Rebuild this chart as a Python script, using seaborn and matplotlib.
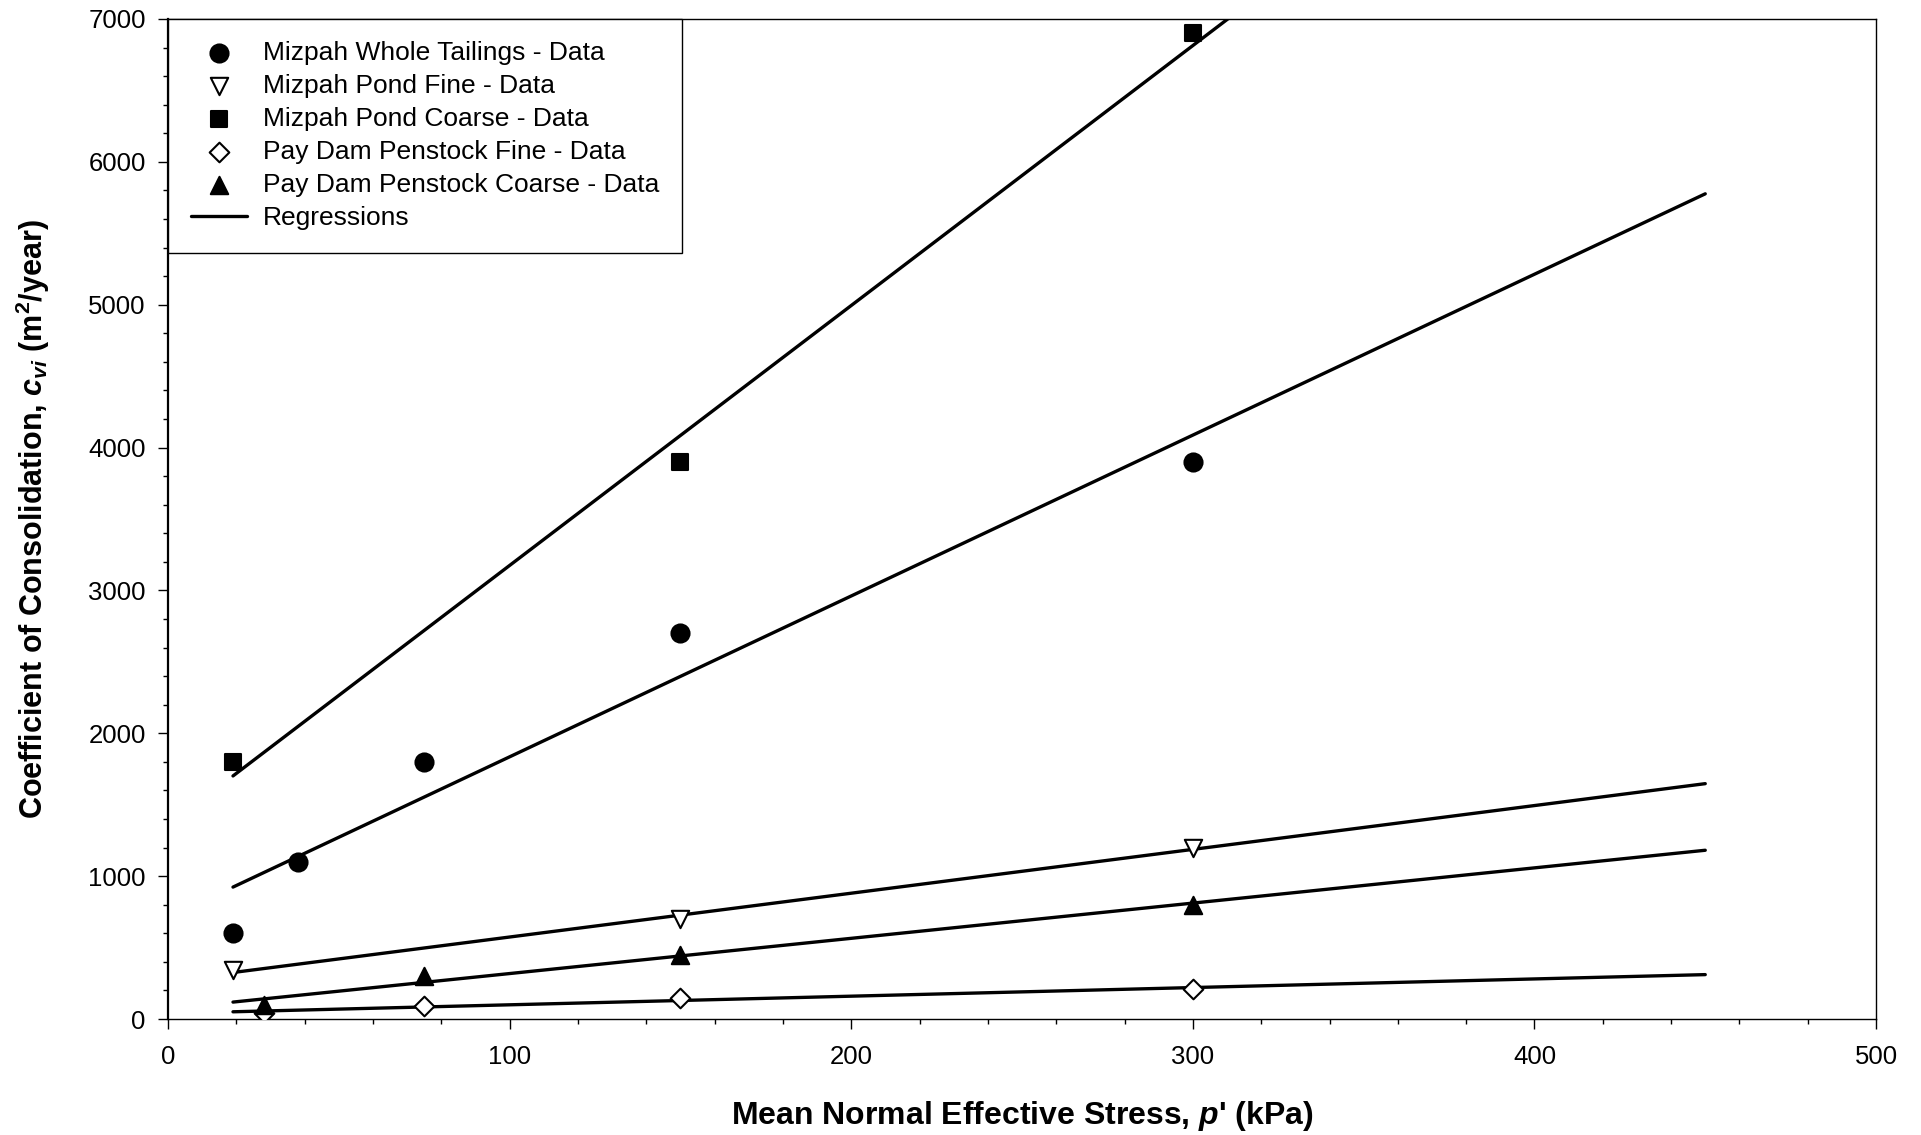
import numpy as np
import pandas as pd
import matplotlib
matplotlib.use("Agg")
import matplotlib.pyplot as plt
import seaborn as sns
from matplotlib.ticker import MultipleLocator

# ---------------- data ----------------
whole_x = [19, 38, 75, 150, 300]
whole_y = [600, 1100, 1800, 2700, 3900]
pfine_x = [19, 150, 300]
pfine_y = [340, 700, 1200]
pcoarse_x = [19, 150, 300]
pcoarse_y = [1800, 3900, 6900]
pdfine_x = [28, 75, 150, 300]
pdfine_y = [40, 90, 150, 210]
pdcoarse_x = [28, 75, 150, 300]
pdcoarse_y = [100, 300, 450, 800]

fit_range = [19, 450]

labels = ["Mizpah Whole Tailings - Data", "Mizpah Pond Fine - Data",
          "Mizpah Pond Coarse - Data", "Pay Dam Penstock Fine - Data",
          "Pay Dam Penstock Coarse - Data", "Regressions"]

# ---------------- style ----------------
sns.set_theme(style="white")
plt.rcParams['font.family'] = ['Liberation Sans', 'DejaVu Sans']
plt.rcParams['mathtext.fontset'] = 'custom'
plt.rcParams['mathtext.rm'] = 'Liberation Sans:bold'
plt.rcParams['mathtext.bf'] = 'Liberation Sans:bold'
plt.rcParams['mathtext.it'] = 'Liberation Sans:bold:italic'

fig = plt.figure(figsize=(19.21, 11.35), dpi=100)
ax = fig.add_axes([0.0875, 0.1022, 0.9766 - 0.0875, 0.9833 - 0.1022])

series = [
    (whole_x, whole_y, 'o', 13.0 ** 2, 'black'),
    (pfine_x, pfine_y, 'v', 12.5 ** 2, 'white'),
    (pcoarse_x, pcoarse_y, 's', 11.5 ** 2, 'black'),
    (pdfine_x, pdfine_y, 'D', 10.0 ** 2, 'white'),
    (pdcoarse_x, pdcoarse_y, '^', 12.5 ** 2, 'black'),
]

handles = []
# regression lines (least-squares fits of each data series)
xx = np.array(fit_range, dtype=float)
for sx, sy, m, s, fc in series:
    slope, icpt = np.polyfit(sx, sy, 1)
    df_line = pd.DataFrame({"x": xx, "y": slope * xx + icpt})
    sns.lineplot(data=df_line, x="x", y="y", ax=ax, color="black", linewidth=2.4,
                 zorder=2, legend=False)
line_handle = ax.lines[-1]

for sx, sy, m, s, fc in series:
    sns.scatterplot(x=sx, y=sy, ax=ax, marker=m, s=s, facecolor=fc,
                    edgecolor='black', linewidth=1.5, zorder=3, legend=False)
    handles.append(ax.collections[-1])
handles.append(line_handle)

ax.set_xlim(0, 500)
ax.set_ylim(0, 7000)
ax.xaxis.set_major_locator(MultipleLocator(100))
ax.xaxis.set_minor_locator(MultipleLocator(20))
ax.yaxis.set_major_locator(MultipleLocator(1000))
ax.yaxis.set_minor_locator(MultipleLocator(200))

ax.tick_params(which='both', direction='out', color='black', width=1.0,
               bottom=True, left=True, top=False, right=False)
ax.tick_params(which='major', length=7)
ax.tick_params(which='minor', length=3.5)
ax.tick_params(axis='y', which='major', labelsize=18.5, pad=9)
ax.tick_params(axis='x', which='major', labelsize=18.5, pad=12)
for lab in ax.get_xticklabels() + ax.get_yticklabels():
    lab.set_color('black')

for sp in ax.spines.values():
    sp.set_color('black')
    sp.set_linewidth(1.0)
    sp.set_visible(True)
ax.spines['left'].set_linewidth(1.6)

ax.set_xlabel("Mean Normal Effective Stress, $p$' (kPa)", fontsize=23,
              fontweight='bold', color='black')
ax.set_ylabel(r"Coefficient of Consolidation, $c_{vi}$ (m$^{2}$/year)",
              fontsize=22, fontweight='bold', color='black')
ax.xaxis.set_label_coords(0.5, -0.080)
ax.yaxis.set_label_coords(-0.068, 0.5)

leg = ax.legend(handles, labels, loc='upper left', bbox_to_anchor=(0, 1),
                borderaxespad=0, fontsize=19, frameon=True, fancybox=False,
                edgecolor='black', framealpha=1, scatterpoints=1,
                handlelength=2.15, handletextpad=0.6, borderpad=0.85,
                labelspacing=0.34)
leg.get_frame().set_linewidth(1.0)
for t in leg.get_texts():
    t.set_color('black')

fig.savefig("out.png", dpi=100, facecolor='white')
